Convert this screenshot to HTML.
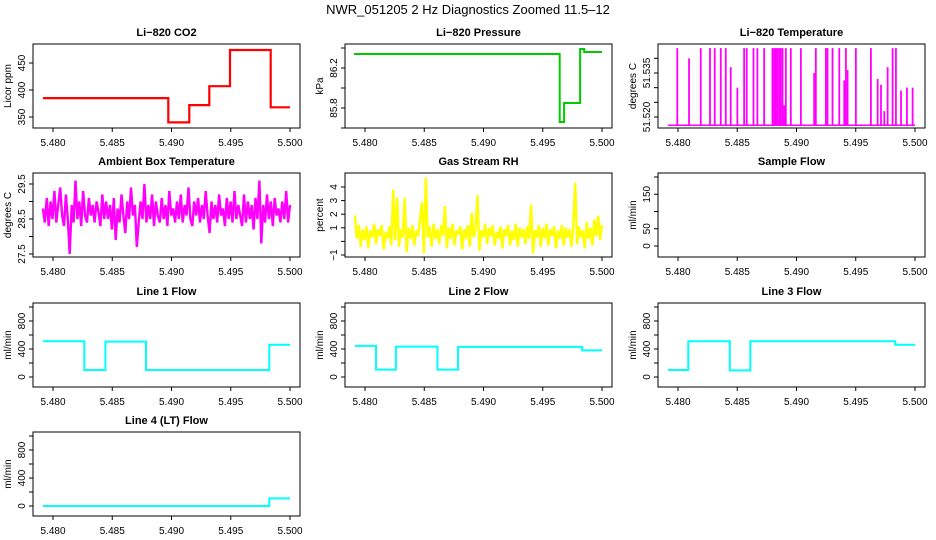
<!DOCTYPE html>
<html><head><meta charset="utf-8"><style>
html,body{margin:0;padding:0;background:#fff;}
svg{display:block;font-family:"Liberation Sans",Arial,sans-serif;}
</style></head><body>
<svg id="chart" width="936" height="540" viewBox="0 0 936 540" xmlns="http://www.w3.org/2000/svg">
<rect width="936" height="540" fill="#fff"/>
<text x="468" y="14" text-anchor="middle" font-size="13">NWR_051205  2 Hz Diagnostics Zoomed 11.5–12</text>
</svg>
<script>
// ---- data ----
const xTicks = [5.480, 5.485, 5.490, 5.495, 5.500];
const xTickLabels = ["5.480", "5.485", "5.490", "5.495", "5.500"];
const tStart = 5.47915, tEnd = 5.5000;

const co2Breaks = [5.47915, 5.48973, 5.49150, 5.49319, 5.49494, 5.49837, 5.5000];
const co2Levels = [385, 340, 372, 407, 474, 368];

const presBreaks = [5.47907, 5.49643, 5.49680, 5.49815, 5.49850, 5.5000];
const presLevels = [86.34, 85.66, 85.85, 86.39, 86.36];

const tempBase = 51.5172;
const tempSpikeTimes = [5.47994,5.48093,5.48192,5.48270,5.48310,5.48361,5.48403,5.48445,5.48501,5.48558,5.48580,5.48637,5.48670,5.48727,5.48797,5.48811,5.48825,5.48839,5.48854,5.48868,5.48882,5.48896,5.48910,5.48952,5.49037,5.49149,5.49163,5.49248,5.49262,5.49304,5.49361,5.49403,5.49417,5.49431,5.49501,5.49628,5.49685,5.49713,5.49741,5.49769,5.49811,5.49839,5.49882,5.49932,5.49980];
const tempSpikeValues = [51.5435,51.540,51.5435,51.5435,51.5435,51.5435,51.5435,51.537,51.530,51.5435,51.5435,51.5435,51.5435,51.5435,51.5435,51.5435,51.5435,51.5435,51.5435,51.5435,51.5435,51.524,51.5435,51.5435,51.5435,51.535,51.5435,51.5435,51.5435,51.5435,51.5435,51.5325,51.5435,51.536,51.5435,51.5435,51.533,51.531,51.522,51.537,51.5435,51.5435,51.529,51.530,51.530];

const ambientValues = [28.8,28.4,29.1,28.3,29.0,28.5,29.3,28.4,28.9,29.4,28.6,28.3,29.2,28.5,27.5,28.9,28.4,29.6,28.5,29.0,28.3,29.3,28.6,28.4,29.1,28.6,28.9,28.4,29.0,28.7,28.3,29.2,28.5,29.0,28.5,28.9,28.2,29.1,27.9,28.8,28.4,29.2,28.6,28.1,29.0,28.5,29.4,28.6,28.9,27.7,28.4,29.0,28.5,29.5,28.4,28.9,28.5,29.2,28.3,29.0,28.6,28.4,29.1,28.5,28.9,28.3,29.3,28.6,28.8,28.4,29.0,28.5,29.2,28.4,28.9,28.6,29.4,28.5,28.3,29.0,28.6,29.1,28.4,28.9,28.5,29.3,28.6,28.1,29.0,28.5,28.9,28.4,29.2,28.6,28.8,28.3,29.1,28.5,29.0,28.4,29.3,28.5,28.9,28.6,28.3,29.2,28.4,29.0,28.5,28.9,28.2,29.1,28.5,29.6,27.8,28.9,28.4,29.2,28.5,29.0,28.3,29.1,28.6,28.8,28.4,29.0,28.5,29.3,28.4,28.9];

const rhValues = [1.9,0.2,1.2,-0.4,0.9,0.1,1.1,-0.5,0.8,0.3,1.3,-0.2,0.9,0.4,1.2,-0.6,0.7,0.2,1.1,-0.3,3.8,0.1,3.2,-0.4,0.9,0.3,3.2,-0.8,1.0,0.2,1.2,-0.3,0.8,0.4,1.6,2.9,-0.9,4.7,0.3,1.1,-0.4,1.3,0.2,0.9,-0.2,1.2,0.4,2.6,-0.5,1.0,0.2,1.3,-0.3,0.8,0.5,1.1,-0.6,0.9,0.2,1.2,-0.4,2.1,0.3,1.0,3.4,-0.7,0.8,0.3,1.3,-0.2,1.0,0.4,1.2,-0.3,0.7,0.2,1.1,-0.5,0.9,0.4,1.2,-0.3,0.8,0.1,1.3,-0.4,1.0,0.3,0.9,-0.2,1.1,0.2,2.7,-0.9,0.8,0.3,1.2,-0.4,1.0,0.2,1.3,-0.3,0.9,0.4,1.1,-0.5,0.8,0.2,1.2,-0.3,1.0,0.3,0.9,-0.4,1.2,4.3,-0.2,1.1,0.3,0.8,-0.5,1.4,0.2,1.0,-0.3,1.6,0.4,1.9,0.1,1.2];

const line1Breaks = [5.47915, 5.48264, 5.48442, 5.48785, 5.49825, 5.5000];
const line1Levels = [512, 100, 505, 100, 460];
const line2Breaks = [5.47915, 5.48093, 5.48261, 5.48612, 5.48785, 5.49832, 5.5000];
const line2Levels = [445, 105, 435, 105, 430, 380];
const line3Breaks = [5.47915, 5.48087, 5.48437, 5.48610, 5.49834, 5.5000];
const line3Levels = [100, 510, 95, 510, 460];
const line4Breaks = [5.47915, 5.49825, 5.5000];
const line4Levels = [0, 108];

const flowTicks = [0, 200, 400, 600, 800, 1000];
const flowLabels = ["0", "", "400", "", "800", ""];

// ---- drawing ----
const NS = "http://www.w3.org/2000/svg";
const svg = document.getElementById("chart");
const colLeft = [33, 345, 658];
const rowTop = [44, 173, 303, 432];
const W = 267, H = 84;

function mk(tag, attrs, parent) {
  const e = document.createElementNS(NS, tag);
  for (const k in attrs) e.setAttribute(k, attrs[k]);
  (parent || svg).appendChild(e);
  return e;
}

function makePanel(p) {
  const L = colLeft[p.col], T = rowTop[p.row];
  const g = mk("g", {});
  
  
  const sx = v => L + 20 + (v - 5.48) * 11850;
  const k = (p.yref[3] - p.yref[1]) / (p.yref[2] - p.yref[0]);
  const sy = v => T + p.yref[1] + (v - p.yref[0]) * k;
  const t = mk("text", {x: L + W / 2, y: T - 8, "text-anchor": "middle", "font-size": 11, "font-weight": "bold"}, g);
  t.textContent = p.title;
  
  
  const dg = mk("g", {}, g);
  
  
  if (p.draw) p.draw(dg, sx, sy);
  const box = mk("rect", {x: L, y: T, width: W, height: H, fill: "none", stroke: "#000", "stroke-width": 1}, g);
  
  
  const xa = mk("g", {}, g);
  
  
  mk("line", {x1: sx(xTicks[0]), x2: sx(xTicks[xTicks.length - 1]), y1: T + H, y2: T + H, stroke: "#000"}, xa);
  xTicks.forEach((v, i) => {
    mk("line", {x1: sx(v), x2: sx(v), y1: T + H, y2: T + H + 4, stroke: "#000"}, xa);
    const tl = mk("text", {x: sx(v), y: T + H + 18, "text-anchor": "middle", "font-size": 10}, xa);
    tl.textContent = xTickLabels[i];
    
    
  });
  const ya = mk("g", {}, g);
  
  
  mk("line", {x1: L, x2: L, y1: sy(p.yTicks[0]), y2: sy(p.yTicks[p.yTicks.length - 1]), stroke: "#000"}, ya);
  p.yTicks.forEach((v, i) => {
    const y = sy(v);
    mk("line", {x1: L - 4, x2: L, y1: y, y2: y, stroke: "#000"}, ya);
    if (p.yLabels[i]) {
      const yl = mk("text", {x: L - 8, y: y, "text-anchor": "middle", "font-size": 10, transform: `rotate(-90 ${L - 8} ${y})`}, ya);
      yl.textContent = p.yLabels[i];
      
      
    }
  });
  const yt = mk("text", {x: L - 22, y: T + H / 2, "text-anchor": "middle", "font-size": 10, transform: `rotate(-90 ${L - 22} ${T + H / 2})`}, g);
  yt.textContent = p.ylab;
  
  
}

function stepPath(breaks, levels, sx, sy) {
  let d = "";
  for (let i = 0; i < levels.length; i++) {
    const x0 = sx(breaks[i]), x1 = sx(breaks[i + 1]), y = sy(levels[i]);
    d += (i === 0 ? "M" : "L") + x0.toFixed(1) + "," + y.toFixed(1) + " L" + x1.toFixed(1) + "," + y.toFixed(1) + " ";
  }
  return d;
}
function stepDraw(breaks, levels, color, w) {
  return (g, sx, sy) => {
    const e = mk("path", {d: stepPath(breaks, levels, sx, sy), fill: "none", stroke: color, "stroke-width": w}, g);
    
    
  };
}
function noiseDraw(values, color) {
  return (g, sx, sy) => {
    const n = values.length;
    let d = "";
    values.forEach((v, i) => {
      const t = tStart + (tEnd - tStart) * i / (n - 1);
      d += (i ? "L" : "M") + sx(t).toFixed(1) + "," + sy(v).toFixed(1);
    });
    const e = mk("path", {d: d, fill: "none", stroke: color, "stroke-width": 2.4, "stroke-linejoin": "bevel"}, g);
    
    
  };
}

const panels = [
  {name: "co2", col: 0, row: 0, title: "Li\u2212820 CO2", ylab: "Licor ppm", yref: [350, 73, 450, 19],
   yTicks: [350, 400, 450], yLabels: ["350", "400", "450"], draw: stepDraw(co2Breaks, co2Levels, "#ff0000", 2.2)},
  {name: "pressure", col: 1, row: 0, title: "Li\u2212820 Pressure", ylab: "kPa", yref: [85.8, 64, 86.2, 24],
   yTicks: [85.6, 85.8, 86.0, 86.2, 86.4], yLabels: ["", "85.8", "", "86.2", ""], draw: stepDraw(presBreaks, presLevels, "#00cc00", 2)},
  {name: "temperature", col: 2, row: 0, title: "Li\u2212820 Temperature", ylab: "degrees C", yref: [51.520, 73, 51.535, 29],
   yTicks: [51.520, 51.525, 51.530, 51.535, 51.540], yLabels: ["51.520", "", "", "51.535", ""],
   draw: (g, sx, sy) => {
     const b = mk("line", {x1: sx(tStart), x2: sx(tEnd), y1: sy(tempBase), y2: sy(tempBase), stroke: "#ff00ff", "stroke-width": 1.5}, g);
     
     
     tempSpikeTimes.forEach((t, i) => {
       const s = mk("line", {x1: sx(t), x2: sx(t), y1: sy(tempBase), y2: sy(tempSpikeValues[i]), stroke: "#ff00ff", "stroke-width": 1.8}, g);
       
       
     });
   }},
  {name: "ambient", col: 0, row: 1, title: "Ambient Box Temperature", ylab: "degrees C", yref: [27.5, 81, 29.5, 11],
   yTicks: [27.5, 28.0, 28.5, 29.0, 29.5], yLabels: ["27.5", "", "28.5", "", "29.5"], draw: noiseDraw(ambientValues, "#ff00ff")},
  {name: "rh", col: 1, row: 1, title: "Gas Stream RH", ylab: "percent", yref: [-1, 82, 4, 14],
   yTicks: [-1, 0, 1, 2, 3, 4], yLabels: ["\u22121", "", "1", "2", "3", "4"], draw: noiseDraw(rhValues, "#ffff00")},
  {name: "sample-flow", col: 2, row: 1, title: "Sample Flow", ylab: "ml/min", yref: [0, 73, 200, 4],
   yTicks: [0, 50, 100, 150, 200], yLabels: ["0", "50", "", "150", ""], draw: null},
  {name: "line1", col: 0, row: 2, title: "Line 1 Flow", ylab: "ml/min", yref: [0, 74, 1000, 4],
   yTicks: flowTicks, yLabels: flowLabels, draw: stepDraw(line1Breaks, line1Levels, "#00ffff", 2)},
  {name: "line2", col: 1, row: 2, title: "Line 2 Flow", ylab: "ml/min", yref: [0, 74, 1000, 4],
   yTicks: flowTicks, yLabels: flowLabels, draw: stepDraw(line2Breaks, line2Levels, "#00ffff", 2)},
  {name: "line3", col: 2, row: 2, title: "Line 3 Flow", ylab: "ml/min", yref: [0, 74, 1000, 4],
   yTicks: flowTicks, yLabels: flowLabels, draw: stepDraw(line3Breaks, line3Levels, "#00ffff", 2)},
  {name: "line4", col: 0, row: 3, title: "Line 4 (LT) Flow", ylab: "ml/min", yref: [0, 74, 1000, 4],
   yTicks: flowTicks, yLabels: flowLabels, draw: stepDraw(line4Breaks, line4Levels, "#00ffff", 2)}
];
panels.forEach(makePanel);
</script>
</body></html>
